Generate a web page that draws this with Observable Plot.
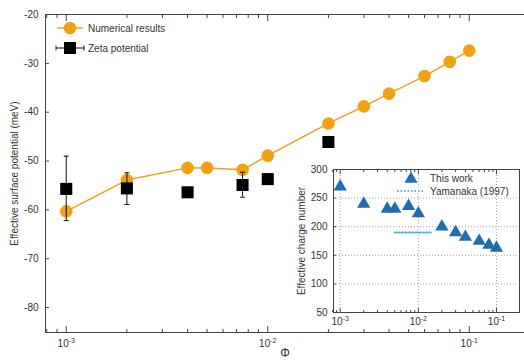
<!DOCTYPE html>
<html><head><meta charset="utf-8">
<script src="https://cdn.jsdelivr.net/npm/d3@7"></script>
<script src="https://cdn.jsdelivr.net/npm/@observablehq/plot@0.6"></script>
<style>
body{margin:0;background:#fff;}
#wrap{position:relative;width:524px;height:361px;overflow:hidden;font-family:"Liberation Sans",Arial,sans-serif;background:#fff;}
#wrap svg{position:absolute;overflow:visible;}
</style></head><body><div id="wrap"></div>
<script>
// ---- data ----
const phi = [0.001, 0.002, 0.004, 0.005, 0.0075, 0.01, 0.02, 0.03, 0.04, 0.06, 0.08, 0.1];
const numerical = [-60.3, -53.9, -51.4, -51.4, -51.8, -48.9, -42.3, -38.8, -36.2, -32.6, -29.7, -27.4];
const zetaPhi = [0.001, 0.002, 0.004, 0.0075, 0.01, 0.02];
const zeta = [-55.7, -55.6, -56.4, -54.9, -53.7, -46.1];
const zetaLo = [-62.2, -58.9, -57.3, -57.4, -54.3, -46.6];
const zetaHi = [-49.0, -52.4, -55.6, -52.3, -53.1, -45.6];
const charge = [270, 240, 231, 231, 236, 223, 200, 190, 182, 175, 168, 163];
const yamanakaPhi = [0.005, 0.0144];
const yamanakaZ = [190, 190];
const mainYTicks = [-80, -70, -60, -50, -40, -30, -20];
const insetYTicks = [50, 100, 150, 200, 250, 300];
const majorX = [0.001, 0.01, 0.1];
const minorX = [0.0008, 0.0009, 0.002, 0.003, 0.004, 0.005, 0.006, 0.007, 0.008, 0.009,
                0.02, 0.03, 0.04, 0.05, 0.06, 0.07, 0.08, 0.09];
const legendMain = ["Numerical results", "Zeta potential"];
const legendInset = ["This work", "Yamanaka (1997)"];
const yLabelMain = "Effective surface potential (meV)";
const yLabelInset = "Effective charge number";
const xLabel = "Φ";

const orange = "#f3a012";
const blue = "#1f6db0";
const cyan = "#45b5e8";
const ink = "#333";
const font = '"Liberation Sans", Arial, sans-serif';

const numData = phi.map((p, i) => ({x: p, y: numerical[i]}));
const zetaData = zetaPhi.map((p, i) => ({x: p, y: zeta[i], lo: zetaLo[i], hi: zetaHi[i]}));
const chargeData = phi.map((p, i) => ({x: p, y: charge[i]}));
const yamData = yamanakaPhi.map((p, i) => ({x: p, y: yamanakaZ[i]}));

const expFmt = d => "10^" + Math.round(Math.log10(d));
const blank = () => "";
const capSymbol = {draw(ctx) { ctx.moveTo(-2.5, 0); ctx.lineTo(2.5, 0); }};

const main = Plot.plot({
  width: 524, height: 361,
  marginLeft: 45, marginTop: 14, marginRight: 0, marginBottom: 29,
  x: {type: "log", domain: [0.000789, 0.188], label: null},
  y: {domain: [-85.1, -20], label: null},
  style: {fontFamily: font, fontSize: "10px", color: ink, background: "transparent"},
  marks: [
    Plot.frame({stroke: "#444"}),
    Plot.axisX({anchor: "bottom", ticks: majorX, tickSize: -6, tickFormat: blank, stroke: "#444"}),
    Plot.axisX({anchor: "bottom", ticks: minorX, tickSize: -3, tickFormat: blank, stroke: "#444"}),
    Plot.axisX({anchor: "top", ticks: majorX, tickSize: -6, tickFormat: blank, stroke: "#444"}),
    Plot.axisX({anchor: "top", ticks: minorX, tickSize: -3, tickFormat: blank, stroke: "#444"}),
    Plot.axisX({anchor: "bottom", ticks: majorX, tickSize: 0, tickPadding: 7, tickFormat: expFmt}),
    Plot.axisY({anchor: "left", ticks: mainYTicks, tickSize: -4, tickFormat: blank, stroke: "#444"}),
    Plot.axisY({anchor: "left", ticks: mainYTicks, tickSize: 0, tickPadding: 7, tickFormat: d => String(d)}),
    Plot.text([yLabelMain], {text: d => d, frameAnchor: "left", dx: -31, rotate: -90, textAnchor: "middle", lineAnchor: "middle", fontSize: 10, fill: ink}),
    Plot.text([xLabel], {text: d => d, frameAnchor: "bottom", dy: 24, textAnchor: "middle", fontSize: 12, fill: ink}),
    Plot.line(numData, {x: "x", y: "y", stroke: orange, strokeWidth: 1.5}),
    Plot.dot(numData, {x: "x", y: "y", r: 6.3, fill: orange, stroke: null}),
    Plot.ruleX(zetaData, {x: "x", y1: "lo", y2: "hi", stroke: "#111", strokeWidth: 1}),
    Plot.dot(zetaData, {x: "x", y: "lo", symbol: capSymbol, stroke: "#111", strokeWidth: 1, fill: "none"}),
    Plot.dot(zetaData, {x: "x", y: "hi", symbol: capSymbol, stroke: "#111", strokeWidth: 1, fill: "none"}),
    Plot.dot(zetaData, {x: "x", y: "y", symbol: "square", r: 6.8, fill: "#000", stroke: null})
  ]
});
main.style.left = "0px"; main.style.top = "0px";

const inset = Plot.plot({
  width: 232, height: 170,
  marginLeft: 43, marginTop: 9, marginRight: 3, marginBottom: 18,
  x: {type: "log", domain: [0.000821, 0.197], label: null},
  y: {domain: [50, 300], label: null},
  style: {fontFamily: font, fontSize: "10px", color: ink, background: "transparent"},
  marks: [
    Plot.frame({fill: "white", stroke: null}),
    Plot.gridX(majorX, {stroke: "#888", strokeOpacity: 0.8, strokeDasharray: "1,2"}),
    Plot.gridY(insetYTicks, {stroke: "#888", strokeOpacity: 0.8, strokeDasharray: "1,2"}),
    Plot.frame({stroke: "#444"}),
    Plot.axisX({anchor: "bottom", ticks: majorX, tickSize: -4, tickFormat: blank, stroke: "#444"}),
    Plot.axisX({anchor: "bottom", ticks: minorX, tickSize: -2, tickFormat: blank, stroke: "#444"}),
    Plot.axisX({anchor: "top", ticks: majorX, tickSize: -4, tickFormat: blank, stroke: "#444"}),
    Plot.axisX({anchor: "top", ticks: minorX, tickSize: -2, tickFormat: blank, stroke: "#444"}),
    Plot.axisX({anchor: "bottom", ticks: majorX, tickSize: 0, tickPadding: 5, tickFormat: expFmt}),
    Plot.axisY({anchor: "left", ticks: insetYTicks, tickSize: -3, tickFormat: blank, stroke: "#444"}),
    Plot.axisY({anchor: "left", ticks: insetYTicks, tickSize: 0, tickPadding: 6, tickFormat: d => String(d)}),
    Plot.text([yLabelInset], {text: d => d, frameAnchor: "left", dx: -32, rotate: -90, textAnchor: "middle", lineAnchor: "middle", fontSize: 10, fill: ink}),
    Plot.line(yamData, {x: "x", y: "y", stroke: cyan, strokeWidth: 2, strokeDasharray: "1.5,2"}),
    Plot.dot(chargeData, {x: "x", y: "y", symbol: "triangle", r: 4.9, fill: blue, stroke: null})
  ]
});
inset.style.left = "290px"; inset.style.top = "160px";

// superscript exponents in tick labels
for (const svg of [main, inset]) {
  svg.querySelectorAll("text").forEach(t => {
    const s = t.textContent;
    if (s.startsWith("10^")) {
      t.textContent = "";
      const ns = "http://www.w3.org/2000/svg";
      const a = document.createElementNS(ns, "tspan"); a.textContent = "10";
      const b = document.createElementNS(ns, "tspan"); b.textContent = s.slice(3);
      b.setAttribute("dy", "-4"); b.setAttribute("font-size", "7");
      t.appendChild(a); t.appendChild(b);
    }
  });
}

// legends
const wrap = document.getElementById("wrap");
wrap.appendChild(main);
wrap.appendChild(inset);
const leg = d3.create("svg").attr("width", 524).attr("height", 361)
  .style("left", "0px").style("top", "0px")
  .attr("font-family", font).attr("font-size", 10).attr("fill", ink);
// main legend
leg.append("line").attr("x1", 57).attr("x2", 83).attr("y1", 28).attr("y2", 28).attr("stroke", orange).attr("stroke-width", 1.5);
leg.append("circle").attr("cx", 70).attr("cy", 28).attr("r", 6.3).attr("fill", orange);
leg.append("text").attr("x", 88).attr("y", 28).attr("dy", "0.35em").text(legendMain[0]);
leg.append("line").attr("x1", 56).attr("x2", 84).attr("y1", 48).attr("y2", 48).attr("stroke", "#111");
leg.append("line").attr("x1", 56).attr("x2", 56).attr("y1", 45.5).attr("y2", 50.5).attr("stroke", "#111");
leg.append("line").attr("x1", 84).attr("x2", 84).attr("y1", 45.5).attr("y2", 50.5).attr("stroke", "#111");
leg.append("rect").attr("x", 64).attr("y", 42).attr("width", 12).attr("height", 12).attr("fill", "#000");
leg.append("text").attr("x", 88).attr("y", 48).attr("dy", "0.35em").text(legendMain[1]);
// inset legend
leg.append("path").attr("transform", "translate(411,179)")
  .attr("d", d3.symbol(d3.symbolTriangle, Math.PI * 4.9 * 4.9)()).attr("fill", blue);
leg.append("text").attr("x", 430).attr("y", 178).attr("dy", "0.35em").text(legendInset[0]);
leg.append("line").attr("x1", 397).attr("x2", 424).attr("y1", 191).attr("y2", 191)
  .attr("stroke", cyan).attr("stroke-width", 2).attr("stroke-dasharray", "1.5,2");
leg.append("text").attr("x", 430).attr("y", 191).attr("dy", "0.35em").text(legendInset[1]);
wrap.appendChild(leg.node());
</script></body></html>
